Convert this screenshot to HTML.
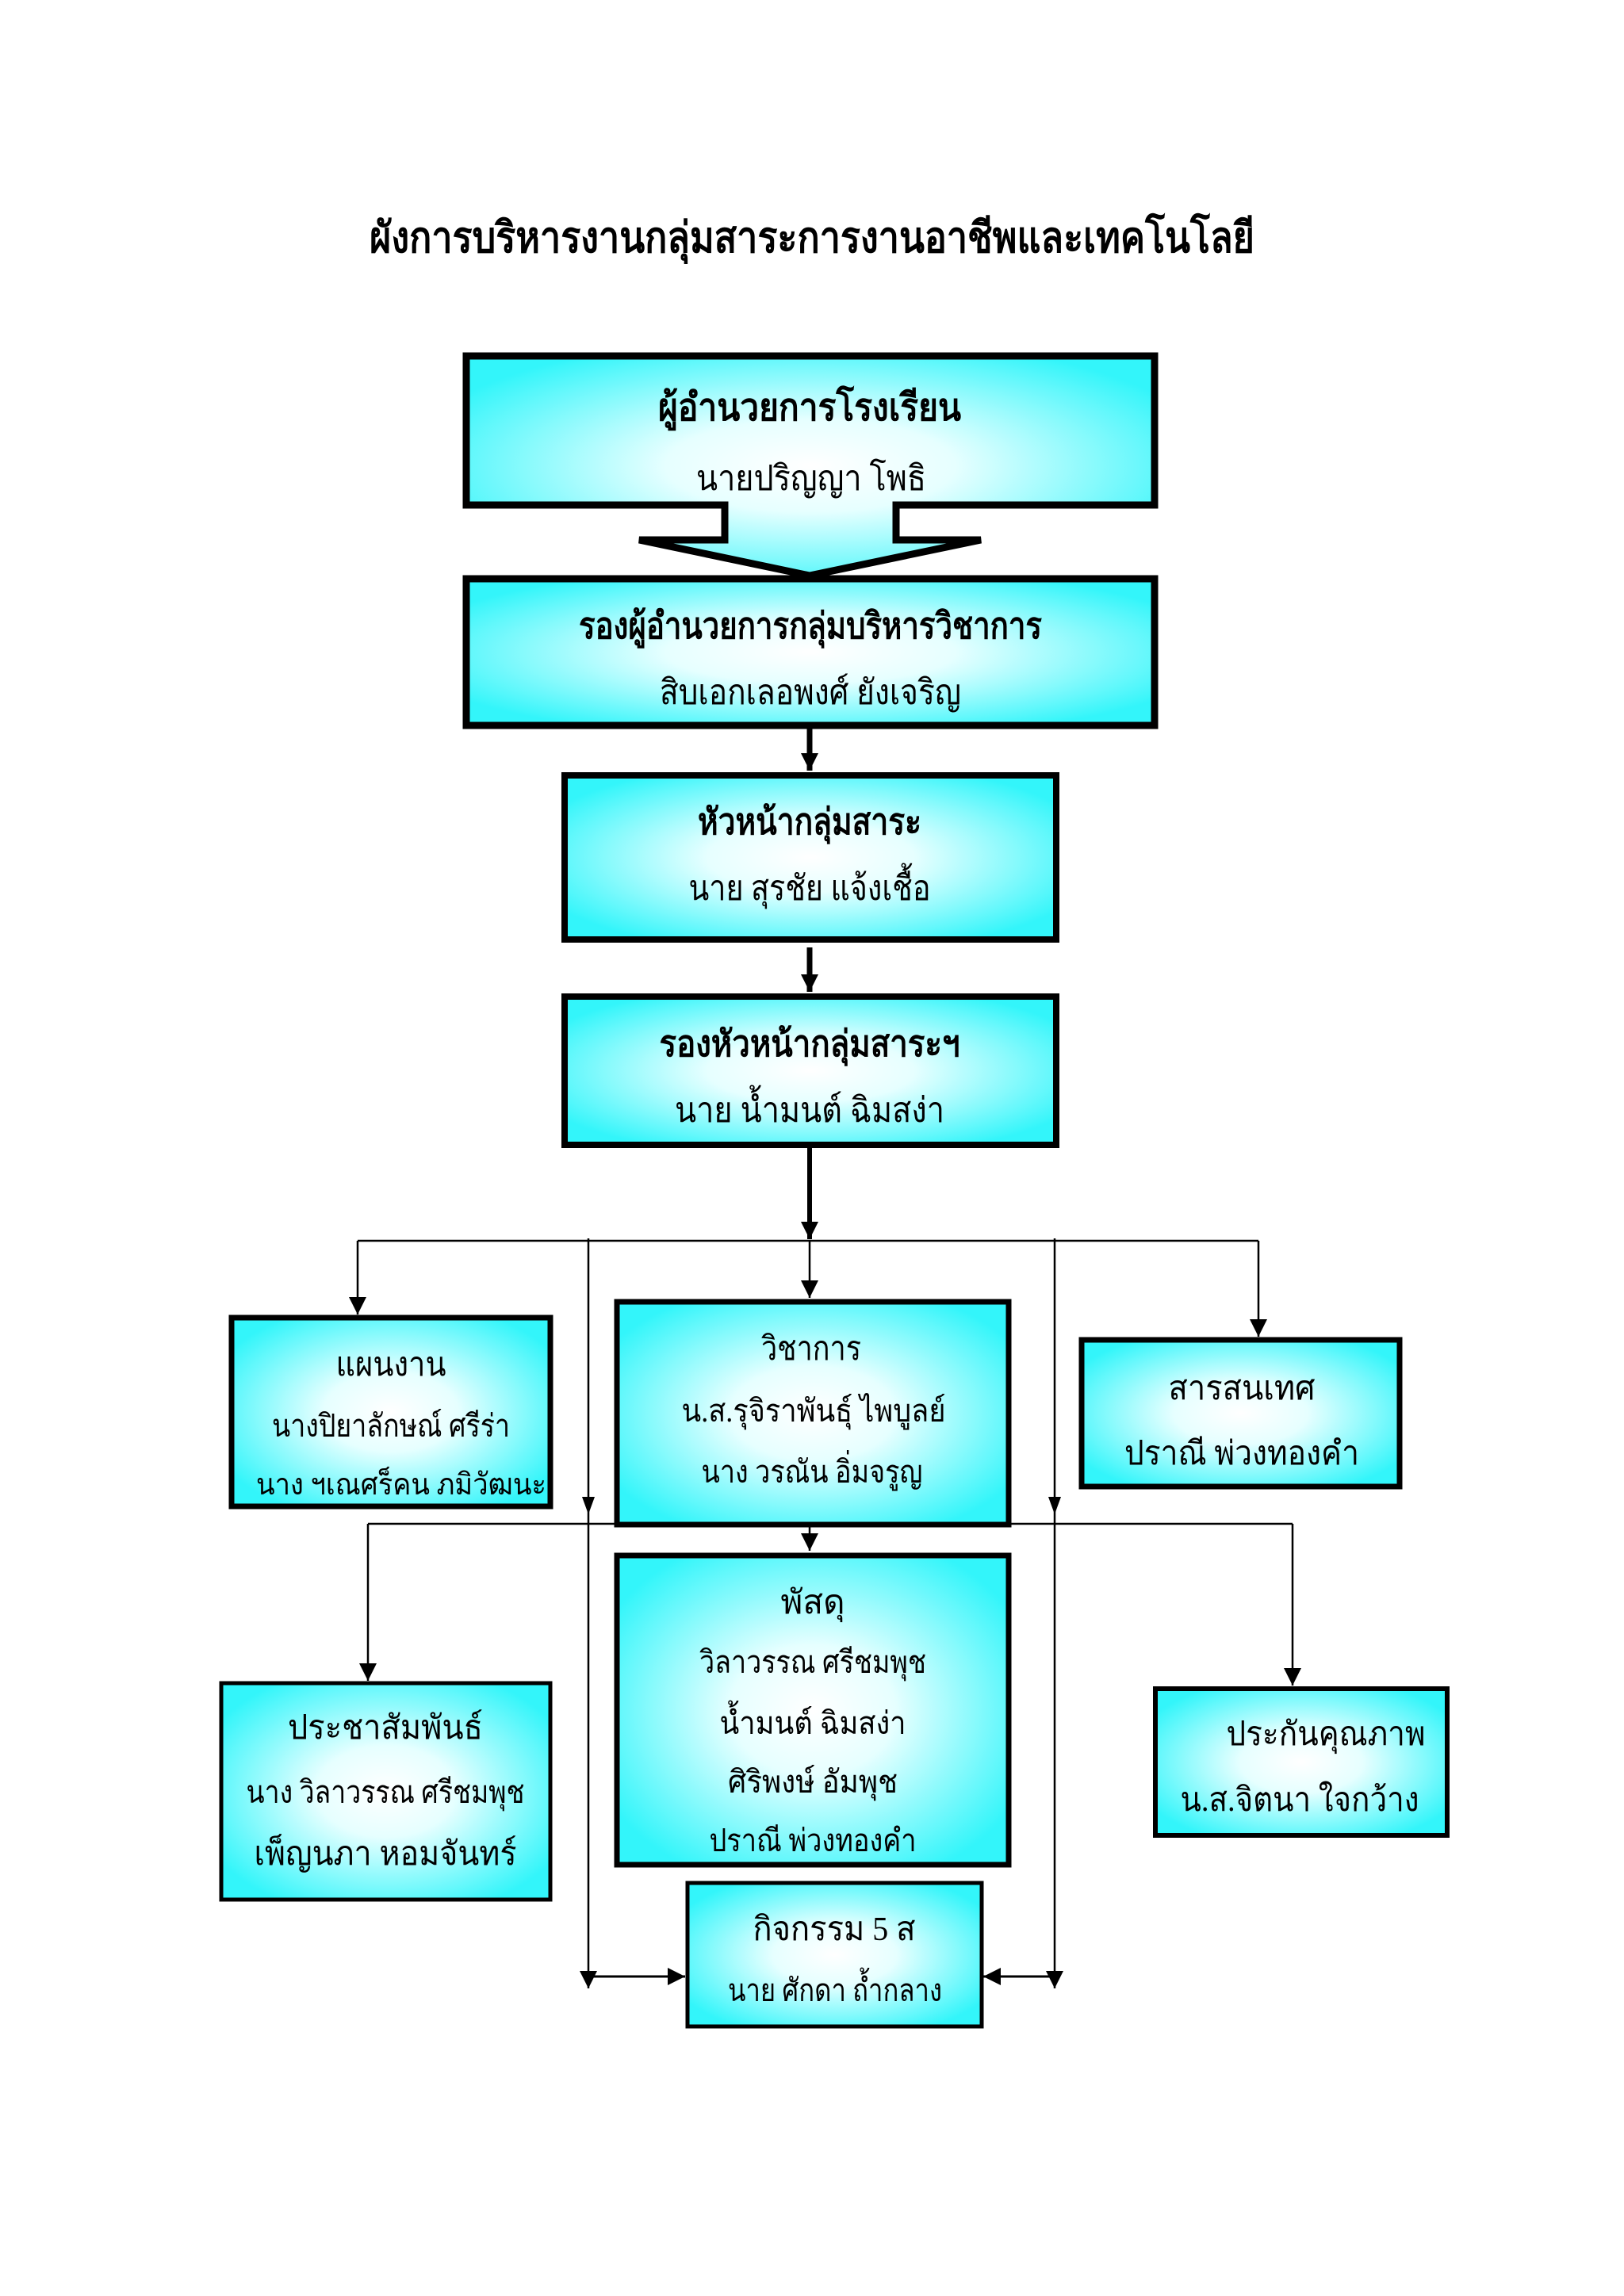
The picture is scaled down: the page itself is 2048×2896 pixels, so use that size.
<!DOCTYPE html>
<html><head><meta charset="utf-8"><style>
html,body{margin:0;padding:0;background:#fff}
svg{display:block}
text{font-family:"Liberation Serif","Noto Serif CJK SC",serif;fill:#000;text-anchor:middle}
</style></head><body>
<svg width="2048" height="2896" viewBox="0 0 2048 2896" xmlns="http://www.w3.org/2000/svg">
<defs>
<radialGradient id="g" cx="0.5" cy="0.5" r="0.6">
<stop offset="0" stop-color="#ffffff"/>
<stop offset="0.35" stop-color="#e6ffff"/>
<stop offset="1" stop-color="#33f5fa"/>
</radialGradient>
<marker id="b" markerWidth="22" markerHeight="22" refX="10" refY="5" orient="auto" markerUnits="userSpaceOnUse" viewBox="0 0 10 10"><path d="M0,0 L10,5 L0,10 Z" fill="#000"/></marker>
</defs>
<text x="1024" y="318" font-size="54" font-weight="bold" textLength="1116" lengthAdjust="spacingAndGlyphs">ผังการบริหารงานกลุ่มสาระการงานอาชีพและเทคโนโลยี</text>

<path d="M588,449 H1456 V637 H1130 V681 H1237 L1021,726 L806,681 H914 V637 H588 Z" fill="url(#g)" stroke="#000" stroke-width="9"/>
<text x="1021" y="530" font-size="48" font-weight="bold" textLength="382" lengthAdjust="spacingAndGlyphs">ผู้อำนวยการโรงเรียน</text>
<text x="1023" y="618" font-size="44" textLength="290" lengthAdjust="spacingAndGlyphs">นายปริญญา  โพธิ</text>

<rect x="588" y="730" width="868" height="185" fill="url(#g)" stroke="#000" stroke-width="9"/>
<text x="1022" y="805" font-size="46" font-weight="bold" textLength="584" lengthAdjust="spacingAndGlyphs">รองผู้อำนวยการกลุ่มบริหารวิชาการ</text>
<text x="1022" y="888" font-size="44" textLength="380" lengthAdjust="spacingAndGlyphs">สิบเอกเลอพงศ์ ยังเจริญ</text>

<line x1="1021" y1="915" x2="1021" y2="972" stroke="#000" stroke-width="7" marker-end="url(#b)"/>
<rect x="712" y="978" width="620" height="207" fill="url(#g)" stroke="#000" stroke-width="8"/>
<text x="1021" y="1052" font-size="46" font-weight="bold" textLength="282" lengthAdjust="spacingAndGlyphs">หัวหน้ากลุ่มสาระ</text>
<text x="1021" y="1135" font-size="44" textLength="305" lengthAdjust="spacingAndGlyphs">นาย สุรชัย แจ้งเชื้อ</text>

<line x1="1021" y1="1195" x2="1021" y2="1251" stroke="#000" stroke-width="7" marker-end="url(#b)"/>
<rect x="712" y="1257" width="620" height="187" fill="url(#g)" stroke="#000" stroke-width="8"/>
<text x="1021" y="1332" font-size="46" font-weight="bold" textLength="379" lengthAdjust="spacingAndGlyphs">รองหัวหน้ากลุ่มสาระฯ</text>
<text x="1021" y="1415" font-size="44" textLength="340" lengthAdjust="spacingAndGlyphs">นาย น้ำมนต์  ฉิมสง่า</text>

<g stroke="#000" fill="none">
<line x1="1021" y1="1444" x2="1021" y2="1563" stroke-width="6" marker-end="url(#b)"/>
<line x1="451" y1="1565" x2="1587" y2="1565" stroke-width="2.5"/>
<line x1="451" y1="1565" x2="451" y2="1658" stroke-width="2.5" marker-end="url(#b)"/>
<line x1="1021" y1="1565" x2="1021" y2="1637" stroke-width="2.5" marker-end="url(#b)"/>
<line x1="1587" y1="1565" x2="1587" y2="1686" stroke-width="2.5" marker-end="url(#b)"/>
<line x1="742" y1="1562" x2="742" y2="2508" stroke-width="2.5" marker-end="url(#b)"/>
<line x1="1330" y1="1562" x2="1330" y2="2508" stroke-width="2.5" marker-end="url(#b)"/>
<line x1="464" y1="1922" x2="1630" y2="1922" stroke-width="2.5"/>
<line x1="464" y1="1922" x2="464" y2="2120" stroke-width="2.5" marker-end="url(#b)"/>
<line x1="1021" y1="1922" x2="1021" y2="1956" stroke-width="2.5" marker-end="url(#b)"/>
<line x1="1630" y1="1922" x2="1630" y2="2126" stroke-width="2.5" marker-end="url(#b)"/>
<line x1="742" y1="2493" x2="864" y2="2493" stroke-width="3" marker-end="url(#b)"/>
<line x1="1330" y1="2493" x2="1240" y2="2493" stroke-width="3" marker-end="url(#b)"/>
</g>
<path d="M742,1910 l-8,-22 h16 z M1330,1910 l-8,-22 h16 z" fill="#000"/>

<rect x="292" y="1662" width="402" height="238" fill="url(#g)" stroke="#000" stroke-width="7"/>
<text x="493" y="1735" font-size="42" textLength="139" lengthAdjust="spacingAndGlyphs">แผนงาน</text>
<text x="493" y="1812" font-size="40" textLength="300" lengthAdjust="spacingAndGlyphs">นางปิยาลักษณ์ ศรีร่า</text>
<text x="506" y="1885" font-size="38" textLength="366" lengthAdjust="spacingAndGlyphs">นาง ฯเณศร็คน ภมิวัฒนะ</text>

<rect x="778" y="1642" width="494" height="281" fill="url(#g)" stroke="#000" stroke-width="7"/>
<text x="1023" y="1715" font-size="42" textLength="126" lengthAdjust="spacingAndGlyphs">วิชาการ</text>
<text x="1026" y="1793" font-size="40" textLength="333" lengthAdjust="spacingAndGlyphs">น.ส.รุจิราพันธุ์ ไพบูลย์</text>
<text x="1024" y="1870" font-size="40" textLength="279" lengthAdjust="spacingAndGlyphs">นาง วรณัน อิ่มจรูญ</text>

<rect x="1364" y="1690" width="401" height="185" fill="url(#g)" stroke="#000" stroke-width="7"/>
<text x="1566" y="1765" font-size="42" textLength="185" lengthAdjust="spacingAndGlyphs">สารสนเทศ</text>
<text x="1566" y="1847" font-size="42" textLength="296" lengthAdjust="spacingAndGlyphs">ปราณี พ่วงทองคำ</text>

<rect x="279" y="2123" width="415" height="273" fill="url(#g)" stroke="#000" stroke-width="5"/>
<text x="486" y="2193" font-size="42" textLength="246" lengthAdjust="spacingAndGlyphs">ประชาสัมพันธ์</text>
<text x="486" y="2274" font-size="40" textLength="351" lengthAdjust="spacingAndGlyphs">นาง วิลาวรรณ ศรีชมพุช</text>
<text x="486" y="2352" font-size="42" textLength="331" lengthAdjust="spacingAndGlyphs">เพ็ญนภา หอมจันทร์</text>

<rect x="778" y="1962" width="494" height="390" fill="url(#g)" stroke="#000" stroke-width="7"/>
<text x="1025" y="2035" font-size="42" textLength="81" lengthAdjust="spacingAndGlyphs">พัสดุ</text>
<text x="1025" y="2110" font-size="40" textLength="286" lengthAdjust="spacingAndGlyphs">วิลาวรรณ ศรีชมพุช</text>
<text x="1025" y="2187" font-size="40" textLength="235" lengthAdjust="spacingAndGlyphs">น้ำมนต์  ฉิมสง่า</text>
<text x="1025" y="2261" font-size="40" textLength="214" lengthAdjust="spacingAndGlyphs">ศิริพงษ์  อัมพุช</text>
<text x="1025" y="2335" font-size="40" textLength="261" lengthAdjust="spacingAndGlyphs">ปราณี พ่วงทองคำ</text>

<rect x="1457" y="2130" width="368" height="185" fill="url(#g)" stroke="#000" stroke-width="6"/>
<text x="1672" y="2201" font-size="42" textLength="251" lengthAdjust="spacingAndGlyphs">ประกันคุณภาพ</text>
<text x="1639" y="2284" font-size="42" textLength="301" lengthAdjust="spacingAndGlyphs">น.ส.จิตนา ใจกว้าง</text>

<rect x="867" y="2375" width="371" height="181" fill="url(#g)" stroke="#000" stroke-width="5"/>
<text x="1052" y="2447" font-size="42" textLength="205" lengthAdjust="spacingAndGlyphs">กิจกรรม 5 ส</text>
<text x="1053" y="2524" font-size="40" textLength="270" lengthAdjust="spacingAndGlyphs">นาย ศักดา ถ้ำกลาง</text>
</svg>
</body></html>
